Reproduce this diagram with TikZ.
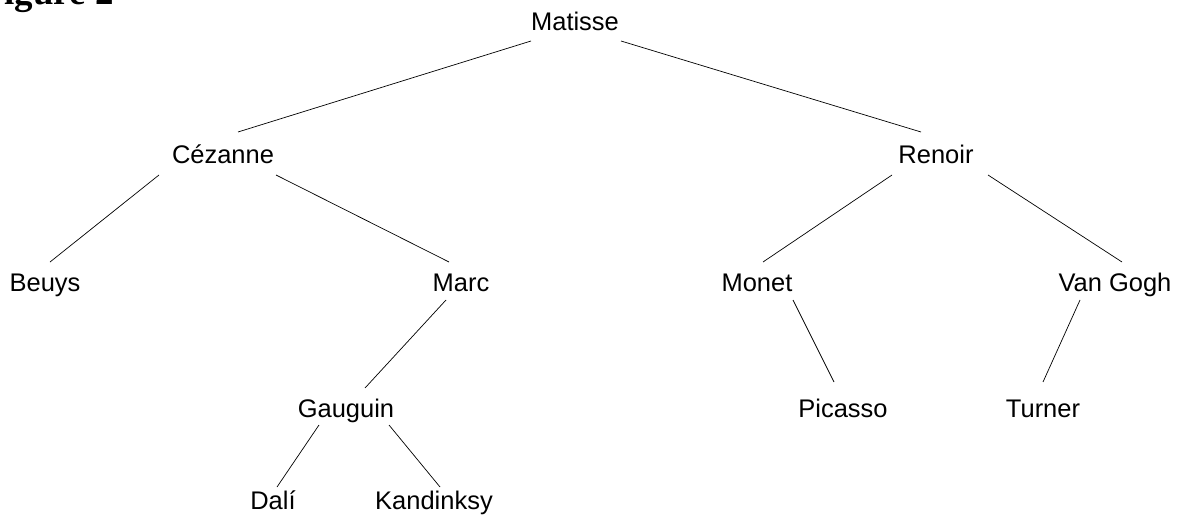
\documentclass[tikz,border=0pt]{standalone}
\usepackage{fontspec}
\setmainfont{Liberation Sans}
\newfontfamily\headfont{Liberation Serif}
\usepackage{tikz}

\tikzset{painter/.style={anchor=base, inner sep=0pt, font=\fontsize{14.5}{17}\selectfont}}

\begin{document}
\begin{tikzpicture}[x=0.02cm,y=-0.02cm]
                \useasboundingbox (0,0) rectangle (1195,520);
                \node[anchor=base east, inner sep=0pt, font=\headfont\bfseries\fontsize{21}{24}\selectfont] (title) at (114,5) {Figure 2};
                \node[painter] (matisse) at (575,31) {Matisse};
                \node[painter] (cezanne) at (223,164) {Cézanne};
                \node[painter] (renoir) at (936,164) {Renoir};
                \node[painter] (beuys) at (45,291) {Beuys};
                \node[painter] (marc) at (461,291) {Marc};
                \node[painter] (monet) at (757,291) {Monet};
                \node[painter] (vangogh) at (1115,291) {Van Gogh};
                \node[painter] (gauguin) at (346,417) {Gauguin};
                \node[painter] (picasso) at (843,417) {Picasso};
                \node[painter] (turner) at (1043,417) {Turner};
                \node[painter] (dali) at (273,509) {Dalí};
                \node[painter] (kandinksy) at (434,509) {Kandinksy};
                \draw ([shift={(-44,10)}]matisse.base) -- ([shift={(15,-32)}]cezanne.base);
                \draw ([shift={(46,10)}]matisse.base) -- ([shift={(-15,-32)}]renoir.base);
                \draw ([shift={(-64,11)}]cezanne.base) -- ([shift={(5,-29)}]beuys.base);
                \draw ([shift={(53,11)}]cezanne.base) -- ([shift={(-12,-29)}]marc.base);
                \draw ([shift={(-44,11)}]renoir.base) -- ([shift={(6,-29)}]monet.base);
                \draw ([shift={(52,11)}]renoir.base) -- ([shift={(7,-29)}]vangogh.base);
                \draw ([shift={(-15,9)}]marc.base) -- ([shift={(19,-29)}]gauguin.base);
                \draw ([shift={(36,9)}]monet.base) -- ([shift={(-9,-35)}]picasso.base);
                \draw ([shift={(-35,9)}]vangogh.base) -- ([shift={(0,-35)}]turner.base);
                \draw ([shift={(-27,8)}]gauguin.base) -- ([shift={(4,-22)}]dali.base);
                \draw ([shift={(43,8)}]gauguin.base) -- ([shift={(6,-22)}]kandinksy.base);
            \end{tikzpicture}
\end{document}
